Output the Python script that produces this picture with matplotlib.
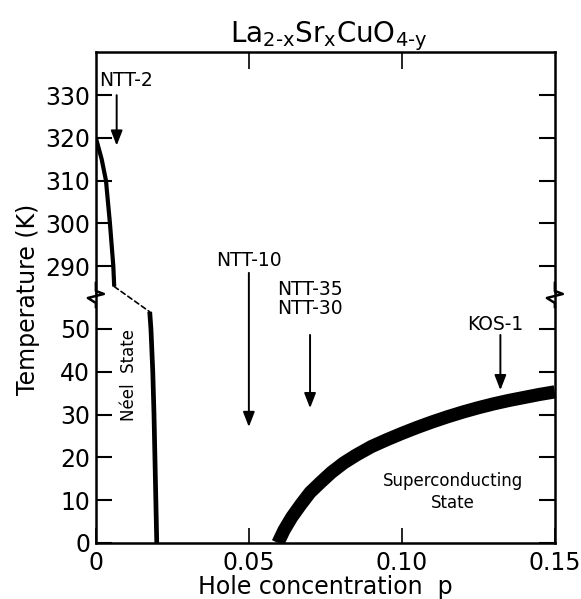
import numpy as np
import matplotlib
matplotlib.use("agg")
import matplotlib.pyplot as plt
from matplotlib.lines import Line2D
from matplotlib.patches import ConnectionPatch

# phase boundaries of La2-xSrxCuO4-y
neel_hi_p = [0.0, 0.0019, 0.0033, 0.0046, 0.0057, 0.0060]
neel_hi_T = [320, 315, 310, 300, 290, 285.2]
neel_lo_p = [0.0176, 0.0180, 0.0186, 0.0190, 0.0193, 0.0196, 0.0199]
neel_lo_T = [54, 50, 40, 30, 20, 10, 0]
sc_p = [0.0595, 0.0615, 0.064, 0.067, 0.070, 0.0735, 0.077, 0.081, 0.085, 0.090, 0.095,
        0.100, 0.105, 0.110, 0.115, 0.120, 0.125, 0.130, 0.135, 0.140, 0.145, 0.150]
sc_T = [0.0, 3.0, 6.0, 9.0, 11.8, 14.2, 16.5, 18.7, 20.5, 22.5, 24.1,
        25.6, 27.0, 28.3, 29.5, 30.6, 31.6, 32.5, 33.3, 34.0, 34.7, 35.3]

# samples measured
samples = ["NTT-2", "NTT-10", "NTT-35\nNTT-30", "KOS-1"]
sample_p = [0.0068, 0.05, 0.07, 0.1322]

upper_ticks = [290, 300, 310, 320, 330]
lower_ticks = [0, 10, 20, 30, 40, 50]
x_ticks = [0, 0.05, 0.10, 0.15]
x_labels = ["0", "0.05", "0.10", "0.15"]

fig = plt.figure(figsize=(5.81, 5.99), dpi=100)
ax_top = fig.add_axes([0.165, 0.5109, 0.790, 0.4023])
ax_bot = fig.add_axes([0.165, 0.0935, 0.790, 0.4174])

ax_top.set_xlim(0, 0.15)
ax_bot.set_xlim(0, 0.15)
ax_top.set_ylim(283.7, 340.1)
ax_bot.set_ylim(0, 58.4)

for ax in (ax_top, ax_bot):
    for s in ax.spines.values():
        s.set_linewidth(1.8)
ax_top.spines["bottom"].set_visible(False)
ax_bot.spines["top"].set_visible(False)

ax_top.set_yticks(upper_ticks)
ax_bot.set_yticks(lower_ticks)
ax_top.set_xticks([0.05, 0.10])
ax_bot.set_xticks(x_ticks)
ax_bot.set_xticklabels(x_labels)
ax_top.tick_params(axis="y", direction="in", length=11.5, width=1.5, left=True, right=True,
                   labelsize=17, pad=4)
ax_top.tick_params(axis="x", direction="in", length=12, width=1.2, top=True, bottom=False,
                   labelbottom=False)
ax_bot.tick_params(axis="y", direction="in", length=11.5, width=1.5, left=True, right=True,
                   labelsize=17, pad=4)
ax_bot.tick_params(axis="x", direction="in", length=11, width=1.2, top=False, bottom=True,
                   labelsize=17, pad=6)

# Neel boundary, upper and lower parts joined by a dashed segment
ax_top.plot(neel_hi_p, neel_hi_T, color="black", lw=3.0, solid_capstyle="butt",
            solid_joinstyle="round")
ax_bot.plot(neel_lo_p, neel_lo_T, color="black", lw=3.4, solid_capstyle="butt",
            solid_joinstyle="round")
con = ConnectionPatch(xyA=(neel_hi_p[-1], neel_hi_T[-1]), coordsA=ax_top.transData,
                      xyB=(neel_lo_p[0], neel_lo_T[0]), coordsB=ax_bot.transData,
                      linestyle=(0, (3, 2)), lw=1.2, color="black")
fig.add_artist(con)

# superconducting dome
ax_bot.plot(sc_p, sc_T, color="black", lw=9.5, solid_capstyle="butt", solid_joinstyle="round")

arrow = dict(arrowstyle="-|>,head_length=0.9,head_width=0.35", color="black", lw=1.4,
             shrinkA=0, shrinkB=0)
txt = dict(fontsize=13.5, color="black")

# NTT-2
ax_top.annotate("", xy=(sample_p[0], 318.2), xytext=(sample_p[0], 330), arrowprops=arrow)
ax_top.text(0.0010, 333.5, samples[0], ha="left", va="center", **txt)

# NTT-10, arrow runs through the axis break
ax_bot.annotate("", xy=(sample_p[1], 27.1), xycoords="data",
                xytext=(sample_p[1], 288.4), textcoords=ax_top.transData, arrowprops=arrow)
ax_top.text(sample_p[1], 291.2, samples[1], ha="center", va="center", **txt)

# NTT-35 / NTT-30
ax_bot.annotate("", xy=(sample_p[2], 31.5), xytext=(sample_p[2], 48.6), arrowprops=arrow)
ax_bot.text(sample_p[2], 57.0, samples[2], ha="center", va="center", linespacing=0.95,
            clip_on=False, **txt)

# KOS-1
ax_bot.annotate("", xy=(sample_p[3], 35.7), xytext=(sample_p[3], 48.6), arrowprops=arrow)
ax_bot.text(0.1305, 51.0, samples[3], ha="center", va="center", **txt)

ax_bot.text(0.0108, 39.3, "Néel  State", rotation=90, ha="center", va="center", fontsize=12)
ax_bot.text(0.1167, 12.0, "Superconducting\nState", ha="center", va="center",
            fontsize=12, linespacing=1.3)

# zigzag marks where the temperature axis is broken
for x0 in (0.0, 1.0):
    zx = [0, 0, 8, -8, 0, 0]
    zy = [10, 2, -1, -5, -10, -14]
    pts = [ax_bot.transAxes.transform((x0, 1.0)) + np.array([dx, dy]) for dx, dy in zip(zx, zy)]
    pts = fig.transFigure.inverted().transform(pts)
    fig.add_artist(Line2D(pts[:, 0], pts[:, 1], color="black", lw=1.8,
                          transform=fig.transFigure))

fig.text(0.048, 0.5, "Temperature (K)", rotation=90, ha="center", va="center", fontsize=17)
ax_bot.set_xlabel("Hole concentration  p", fontsize=17, labelpad=0)
fig.text(0.565, 0.94, "La$_{\\mathregular{2\u2010x}}$Sr$_{\\mathregular{x}}$"
         "CuO$_{\\mathregular{4\u2010y}}$", ha="center", va="center", fontsize=20)

fig.savefig("out.png", dpi=100)
